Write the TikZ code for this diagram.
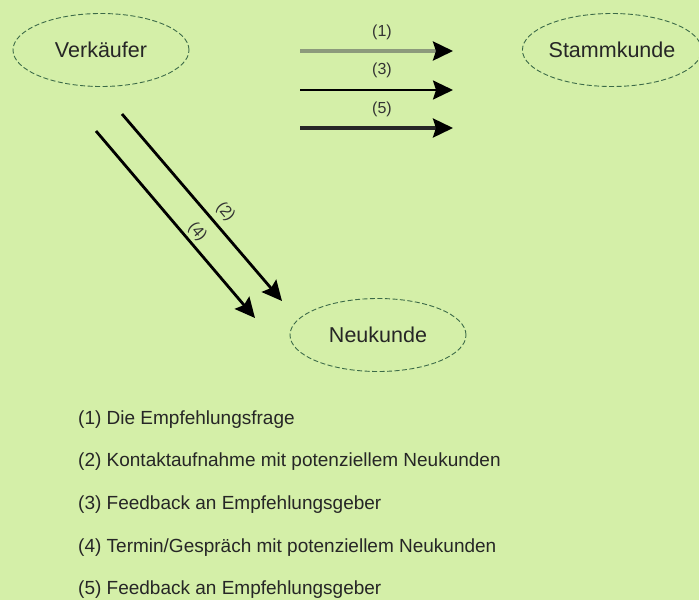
\documentclass[tikz,border=0pt]{standalone}
\usepackage{fontspec}
\setmainfont{Liberation Sans}
\usetikzlibrary{arrows.meta,shapes.geometric}
\definecolor{bg}{HTML}{D4EFA8}
\definecolor{edge}{HTML}{3C6A48}
\definecolor{greyline}{HTML}{8C9A7C}
\tikzset{
  actor/.style={ellipse, draw=edge, dashed, dash pattern=on 5pt off 2.5pt, line width=0.9pt,
    minimum width=176pt, minimum height=73pt, inner sep=0pt, font=\fontsize{21.5}{24}\selectfont, text=black!85},
  flow/.style={-{Stealth[length=20pt,width=19pt,inset=3pt,color=black]}, line width=2.8pt},
  num/.style={font=\fontsize{16}{18}\selectfont, text=black!80, inner sep=1pt},
  legend/.style={anchor=west, font=\fontsize{19}{21}\selectfont, text=black!85, inner sep=0pt}
}
\begin{document}
\begin{tikzpicture}[x=1pt,y=-1pt]
\fill[bg] (0,0) rectangle (699,600);
\useasboundingbox (0,0) rectangle (699,600);

\node[actor] (v) at (101,50) {Verkäufer};
\node[actor] (s) at (612,50) {Stammkunde};
\node[actor] (n) at (378,335) {Neukunde};

\coordinate (a1s) at (300,51); \coordinate (a1e) at (453,51);
\coordinate (a3s) at (300,90); \coordinate (a3e) at (453,90);
\coordinate (a5s) at (300,128); \coordinate (a5e) at (453,128);
\draw[flow, draw=greyline, line width=3.4pt] (a1s) -- (a1e);
\draw[flow, line width=2.2pt] (a3s) -- (a3e);
\draw[flow, draw=black!85, line width=3.2pt] (a5s) -- (a5e);
\node[num] (l1) at (382,32) {(1)};
\node[num] (l3) at (382,70) {(3)};
\node[num] (l5) at (382,109) {(5)};

\coordinate (d2s) at (122,114); \coordinate (d2e) at (282,301);
\coordinate (d4s) at (96,131); \coordinate (d4e) at (255,318);
\draw[flow] (d2s) -- node[num, sloped, above=5pt, pos=0.575] (l2) {(2)} (d2e);
\draw[flow] (d4s) -- node[num, sloped, above=2pt, pos=0.58] (l4) {(4)} (d4e);

\node[legend] (t1) at (78,420) {(1) Die Empfehlungsfrage};
\node[legend] (t2) at (78,462) {(2) Kontaktaufnahme mit potenziellem Neukunden};
\node[legend] (t3) at (78,505) {(3) Feedback an Empfehlungsgeber};
\node[legend] (t4) at (78,548) {(4) Termin/Gespräch mit potenziellem Neukunden};
\node[legend] (t5) at (78,590) {(5) Feedback an Empfehlungsgeber};
\end{tikzpicture}
\end{document}
